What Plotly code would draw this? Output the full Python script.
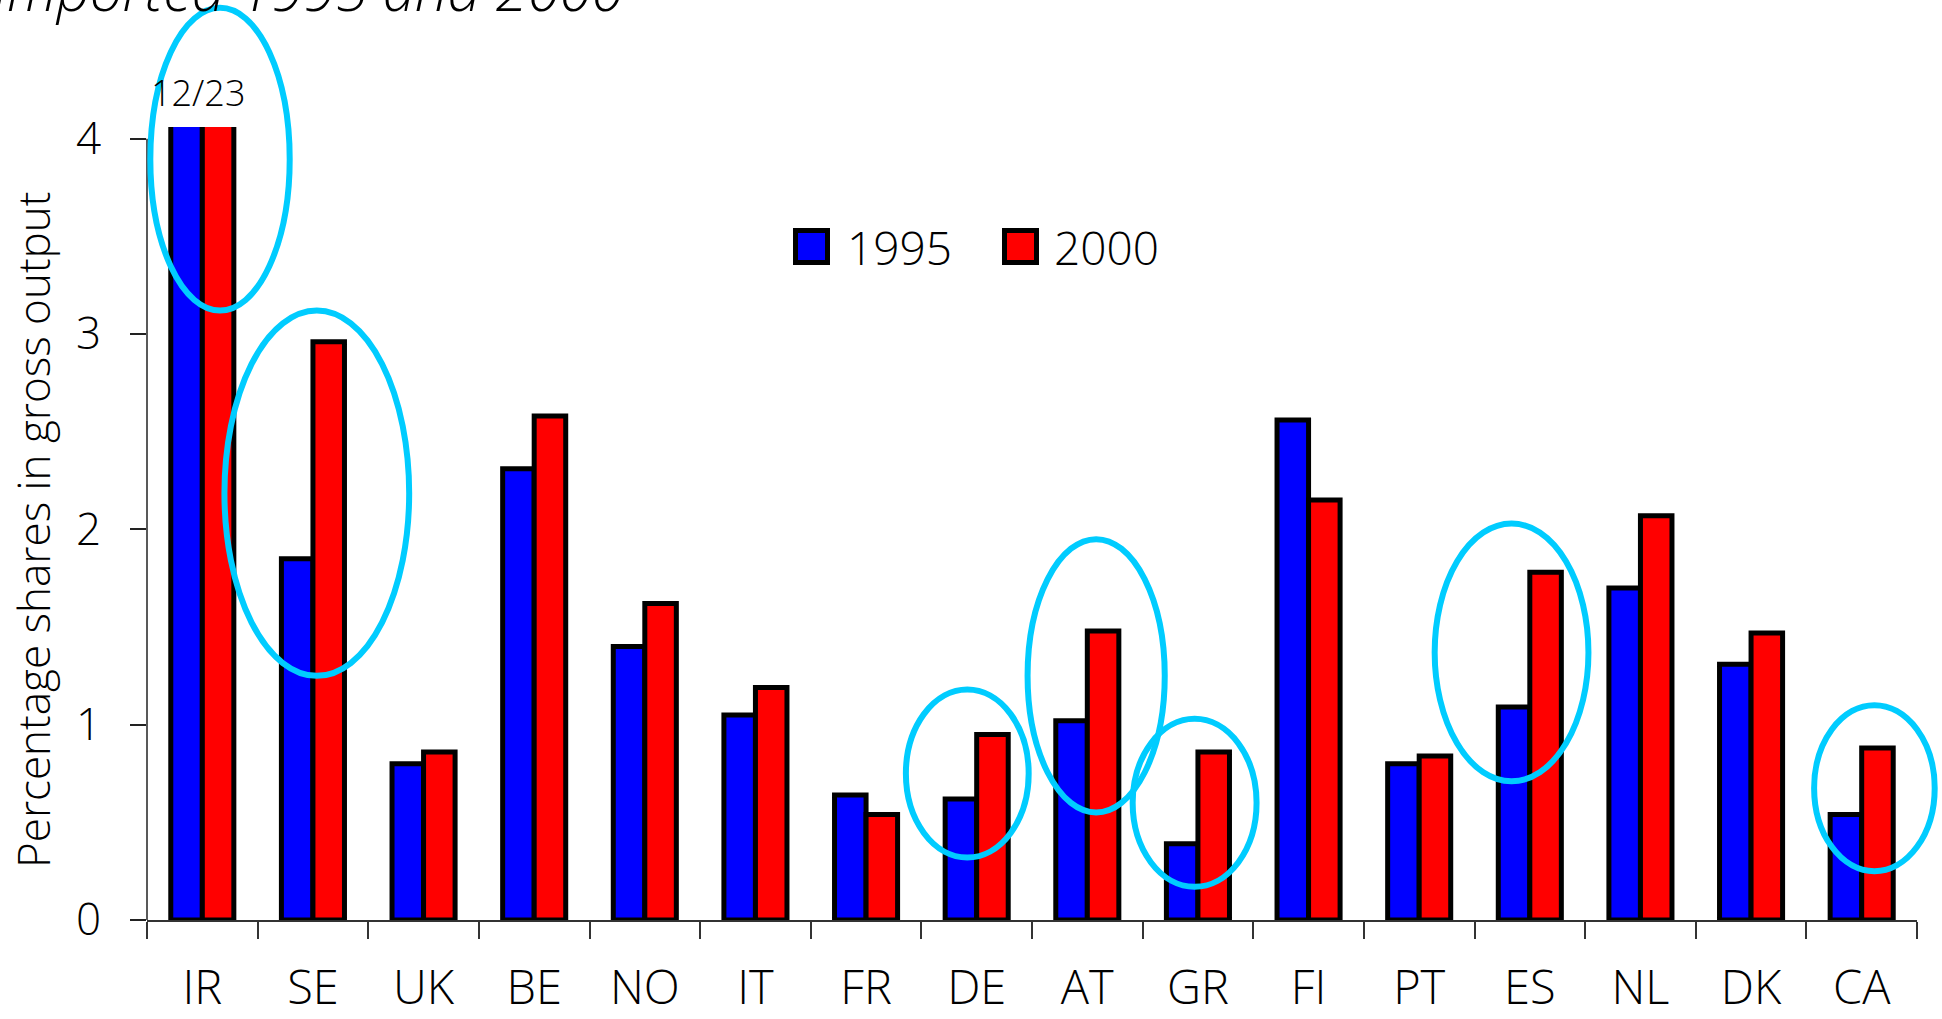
import plotly.graph_objects as go

# ---------------- data ----------------
countries = ["IR", "SE", "UK", "BE", "NO", "IT", "FR", "DE", "AT", "GR",
             "FI", "PT", "ES", "NL", "DK", "CA"]
share_1995 = [12, 1.85, 0.80, 2.31, 1.40, 1.05, 0.64, 0.62, 1.02, 0.39,
              2.56, 0.80, 1.09, 1.70, 1.31, 0.54]
share_2000 = [23, 2.96, 0.86, 2.58, 1.62, 1.19, 0.54, 0.95, 1.48, 0.86,
              2.15, 0.84, 1.78, 2.07, 1.47, 0.88]
series_names = ["1995", "2000"]
y_ticks = [0, 1, 2, 3, 4]
title_text = "imported 1995 and 2000"
y_title = "Percentage shares in gross output"

# ---------------- layout constants ----------------
W, H = 1942, 1019
L, R, T, B = 147, 25, 127, 99
YMAX = 4.06
FONT = "Open Sans"
WEIGHT = 300
CYAN = "#00CCFF"
COLORS = ["#0000FF", "#FF0000"]

# highlight ellipses, in category-index / value units: (x0, x1, y0, y1)
highlights = [
    (-0.47, 0.79, 3.12, 4.67),   # IR
    (0.20, 1.87, 1.25, 3.12),    # SE
    (6.36, 7.47, 0.32, 1.18),    # DE
    (7.46, 8.70, 0.55, 1.95),    # AT
    (8.41, 9.53, 0.17, 1.03),    # GR
    (11.14, 12.53, 0.71, 2.03),  # ES
    (14.57, 15.66, 0.25, 1.10),  # CA
]

PW = W - L - R
PH = H - T - B


def px_x(px):
    return (px - L) / PW


def px_y(py):
    return (H - B - py) / PH


def fnt(size):
    return dict(family=FONT, size=size, color="black", weight=WEIGHT)


fig = go.Figure()
for name, vals, col in zip(series_names, [share_1995, share_2000], COLORS):
    fig.add_trace(go.Bar(
        x=countries, y=vals, name=name,
        marker=dict(color=col, line=dict(color="black", width=5)),
        showlegend=False,
    ))

shapes = []
# y-axis line only up to the top tick
shapes.append(dict(type="line", xref="x domain", yref="y domain",
                   x0=0, x1=0, y0=0, y1=max(y_ticks) / YMAX,
                   line=dict(color="#222", width=1.5), layer="above"))
# highlight ellipses
ncat = len(countries)
for x0, x1, y0, y1 in highlights:
    shapes.append(dict(type="circle", xref="x domain", yref="y domain",
                       x0=(x0 + 0.5) / ncat, x1=(x1 + 0.5) / ncat,
                       y0=y0 / YMAX, y1=y1 / YMAX,
                       line=dict(color=CYAN, width=6), layer="above"))

# custom legend
legend_items = [(793, 845), (1002, 1052)]
annotations = []
for (bx, tx), name, col in zip(legend_items, series_names, COLORS):
    shapes.append(dict(type="rect", xref="paper", yref="paper",
                       x0=px_x(bx + 2.5), x1=px_x(bx + 34.5),
                       y0=px_y(262.5), y1=px_y(230.5),
                       fillcolor=col, line=dict(color="black", width=5)))
    annotations.append(dict(text=name, xref="paper", yref="paper",
                            x=px_x(tx), y=px_y(247), xanchor="left",
                            yanchor="middle", showarrow=False,
                            font=fnt(46)))

# clipped value label for IR
annotations.append(dict(text=f"{share_1995[0]:g}/{share_2000[0]:g}",
                        xref="paper", yref="paper", x=px_x(198), y=px_y(92),
                        xanchor="center", yanchor="middle", showarrow=False,
                        font=fnt(36)))
# y axis title
annotations.append(dict(text=y_title, xref="paper", yref="paper",
                        x=px_x(33), y=px_y(530), textangle=-90,
                        xanchor="center", yanchor="middle", showarrow=False,
                        font=fnt(44)))
# title (cut at the top of the page)
annotations.append(dict(text=f"<i>{title_text}</i>", xref="paper", yref="paper",
                        x=px_x(-8), y=px_y(30), xanchor="left",
                        yanchor="bottom", showarrow=False,
                        font=fnt(58)))

fig.update_layout(
    width=W, height=H,
    margin=dict(l=L, r=R, t=T, b=B, autoexpand=False),
    paper_bgcolor="white", plot_bgcolor="white",
    barmode="group", bargap=0.43, bargroupgap=0,
    font=dict(family=FONT, color="black", weight=WEIGHT),
    shapes=shapes, annotations=annotations,
    xaxis=dict(type="category", tickson="boundaries", ticks="outside",
               ticklen=17, tickwidth=1.5, tickcolor="#333",
               showline=True, linecolor="#333", linewidth=1.5,
               showgrid=False, tickfont=fnt(47),
               ticklabelstandoff=26),
    yaxis=dict(range=[0, YMAX], tickvals=y_ticks, ticks="outside",
               ticklen=16, tickwidth=1.5, tickcolor="#222",
               showline=False, showgrid=False, zeroline=False,
               tickfont=fnt(44), ticklabelstandoff=20),
)

fig.write_html("out.html", config={"displayModeBar": False},
               post_script="document.body.style.margin='0';")
